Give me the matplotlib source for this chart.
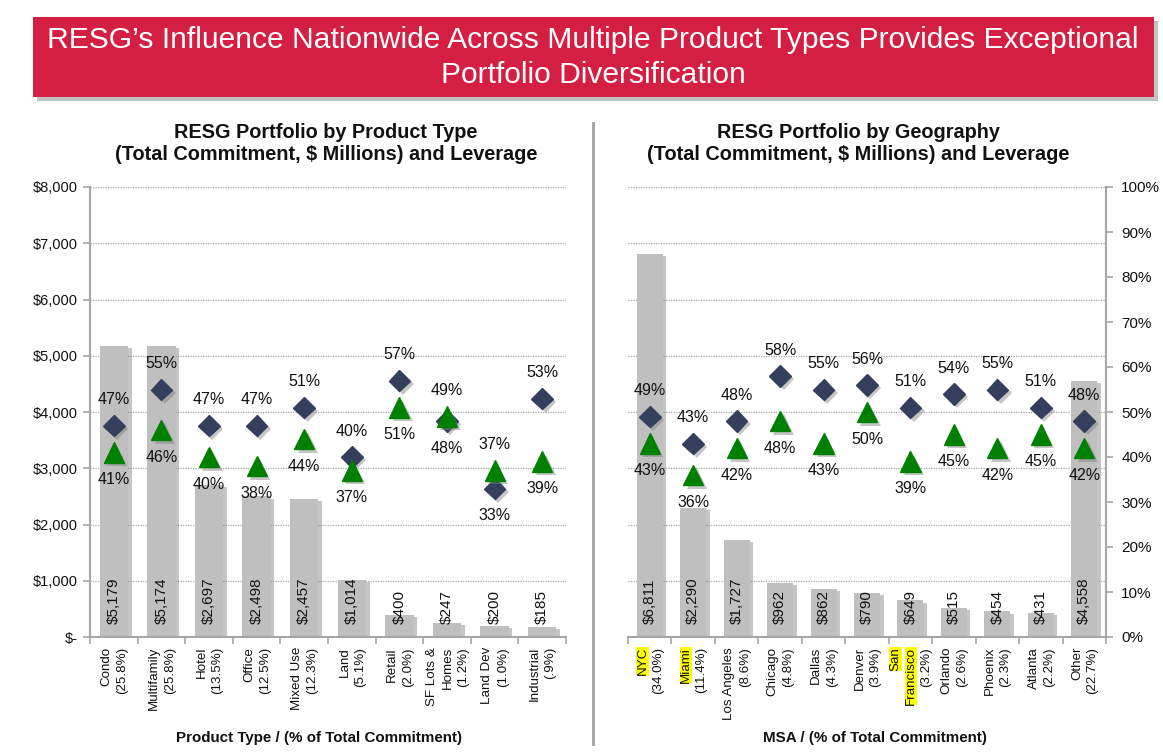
import matplotlib
matplotlib.use("Agg")
import matplotlib.pyplot as plt
import matplotlib.patheffects as pe
from matplotlib.patches import Rectangle
from matplotlib.lines import Line2D
from matplotlib.transforms import blended_transform_factory, offset_copy
from matplotlib.ticker import FuncFormatter, MultipleLocator

plt.rcParams['font.family'] = ['Liberation Sans', 'DejaVu Sans']

# ---------------- data ----------------
title_text = "RESG\u2019s Influence Nationwide Across Multiple Product Types Provides Exceptional\nPortfolio Diversification"

prod_title = "RESG Portfolio by Product Type\n(Total Commitment, $ Millions) and Leverage"
prod_xlabel = "Product Type / (% of Total Commitment)"
prod_names = ["Condo", "Multifamily", "Hotel", "Office", "Mixed Use", "Land",
              "Retail", "SF Lots &\nHomes", "Land Dev", "Industrial"]
prod_share = ["(25.8%)", "(25.8%)", "(13.5%)", "(12.5%)", "(12.3%)", "(5.1%)",
              "(2.0%)", "(1.2%)", "(1.0%)", "(.9%)"]
prod_commit = [5179, 5174, 2697, 2498, 2457, 1014, 400, 247, 200, 185]
prod_diamond = [47, 55, 47, 47, 51, 40, 57, 48, 33, 53]
prod_triangle = [41, 46, 40, 38, 44, 37, 51, 49, 37, 39]

geo_title = "RESG Portfolio by Geography\n(Total Commitment, $ Millions) and Leverage"
geo_xlabel = "MSA / (% of Total Commitment)"
geo_names = ["NYC", "Miami", "Los Angeles", "Chicago", "Dallas", "Denver",
             "San\nFrancisco", "Orlando", "Phoenix", "Atlanta", "Other"]
geo_share = ["(34.0%)", "(11.4%)", "(8.6%)", "(4.8%)", "(4.3%)", "(3.9%)",
             "(3.2%)", "(2.6%)", "(2.3%)", "(2.2%)", "(22.7%)"]
geo_highlight = ["NYC", "Miami", "San\nFrancisco"]
geo_commit = [6811, 2290, 1727, 962, 862, 790, 649, 515, 454, 431, 4558]
geo_diamond = [49, 43, 48, 58, 55, 56, 51, 54, 55, 51, 48]
geo_triangle = [43, 36, 42, 48, 43, 50, 39, 45, 42, 45, 42]

# ---------------- style ----------------
W, H = 1163, 756
RED = "#D51F42"
BAR = "#BFBFBF"
NAVY = "#333F5C"
GREEN = "#008000"
AXC = "#A6A6A6"
TXT = "#111111"

fig = plt.figure(figsize=(W / 100, H / 100), dpi=100)

def fx(px):
    return px / W

def fy(py):
    return 1 - py / H

# banner
fig.patches.append(Rectangle((fx(37), fy(101)), fx(1154 - 33), (97 - 17) / H,
                             transform=fig.transFigure, facecolor="#9a9a9a",
                             edgecolor="none", alpha=0.6, zorder=0))
fig.patches.append(Rectangle((fx(33), fy(97)), fx(1154 - 33), (97 - 17) / H,
                             transform=fig.transFigure, facecolor=RED,
                             edgecolor="none", zorder=1))
l1, l2 = title_text.split("\n")
fig.text(fx(593), fy(40), l1, ha="center", va="center", color="white", fontsize=21.6, zorder=3)
fig.text(fx(593), fy(75), l2, ha="center", va="center", color="white", fontsize=21.6, zorder=3)

# separator
fig.add_artist(Line2D([fx(593), fx(593)], [fy(123), fy(744)], transform=fig.transFigure,
                      color="#A0A0A0", lw=2))

shadow_bar = [pe.SimplePatchShadow(offset=(2.5, -1.5), shadow_rgbFace="#7f7f7f", alpha=0.45),
              pe.Normal()]
shadow_mk = [pe.SimplePatchShadow(offset=(2.5, -2.5), shadow_rgbFace="#7f7f7f", alpha=0.45),
             pe.Normal()]


def draw_panel(rect, names, shares, commit, diamond, triangle, title, title_x, xlabel, xlabel_x,
               side, highlight=()):
    ax = fig.add_axes(rect)
    n = len(names)
    x = list(range(n))
    ax.set_xlim(-0.5, n - 0.5)
    ax.set_ylim(0, 8000)
    ax.bar(x, commit, width=0.6, color=BAR, zorder=2, path_effects=shadow_bar)

    # leverage axis
    ax2 = ax.twinx()
    ax2.set_ylim(0, 100)

    # grid
    ax.yaxis.set_major_locator(MultipleLocator(1000))
    ax.grid(axis="y", color="#A8A8A8", linestyle=(0, (1, 1)), lw=0.9, zorder=0)
    ax.set_axisbelow(True)
    for s in ["top", "right", "left"]:
        ax.spines[s].set_visible(False)
    ax.spines["bottom"].set_color(AXC)
    ax.spines["bottom"].set_linewidth(1.5)
    ax.set_xticks([i - 0.5 for i in range(n + 1)])
    ax.set_xticklabels([])
    ax.tick_params(axis="x", length=5, width=1.2, color=AXC, direction="out")
    if side == "left":
        ax.spines["left"].set_visible(True)
        ax.spines["left"].set_color(AXC)
        ax.spines["left"].set_linewidth(1.5)
        ax.yaxis.set_major_formatter(FuncFormatter(lambda v, p: "$-" if v == 0 else "${:,.0f}".format(v)))
        ax.tick_params(axis="y", left=True, labelleft=True, right=False, labelright=False,
                       length=5, width=1.2, color=AXC, labelsize=10.5, labelcolor=TXT, pad=4)
    else:
        ax.tick_params(axis="y", left=False, labelleft=False, right=False, labelright=False)

    # bar value labels
    for xi, v in zip(x, commit):
        ax.text(xi, 230, "${:,.0f}".format(v), rotation=90, ha="center", va="bottom",
                fontsize=11, color=TXT, zorder=5)

    for s in ["top", "left", "bottom"]:
        ax2.spines[s].set_visible(False)
    if side == "right":
        ax2.spines["right"].set_color(AXC)
        ax2.spines["right"].set_linewidth(1.5)
        ax2.yaxis.set_major_locator(MultipleLocator(10))
        ax2.yaxis.set_major_formatter(FuncFormatter(lambda v, p: "{:.0f}%".format(v)))
        ax2.tick_params(axis="y", left=False, labelleft=False, right=True, labelright=True,
                        length=5, width=1.2, color=AXC, labelsize=11, labelcolor=TXT, pad=6)
    else:
        ax2.spines["right"].set_visible(False)
        ax2.tick_params(axis="y", left=False, labelleft=False, right=False, labelright=False)

    ax2.plot(x, diamond, linestyle="none", marker="D", markersize=11, color=NAVY,
             markeredgecolor=NAVY, path_effects=shadow_mk, zorder=4)
    ax2.plot(x, triangle, linestyle="none", marker="^", markersize=14.5, color=GREEN,
             markeredgecolor=GREEN, path_effects=shadow_mk, zorder=5)
    for xi, d, t in zip(x, diamond, triangle):
        d_up = d >= t
        ax2.annotate(f"{d}%", (xi, d), xytext=(0, 18.5 if d_up else -19.5), textcoords="offset points",
                     ha="center", va="center", fontsize=11.5, color=TXT)
        ax2.annotate(f"{t}%", (xi, t), xytext=(0, -19.5 if d_up else 18.5), textcoords="offset points",
                     ha="center", va="center", fontsize=11.5, color=TXT)

    # category labels (rotated, one column per line)
    trans = blended_transform_factory(ax.transData, fig.transFigure)
    ytop = fy(647)
    for xi, nm, sh in zip(x, names, shares):
        lines = nm.split("\n")
        hl = nm in highlight
        all_lines = [(ln, hl) for ln in lines] + [(sh, False)]
        k = len(all_lines)
        for j, (ln, h) in enumerate(all_lines):
            dx = (j - (k - 1) / 2) * 15.5 + 0.5
            tr = offset_copy(trans, fig=fig, x=dx, y=0, units="dots")
            kw = {}
            if h:
                kw["bbox"] = dict(facecolor="#FFFF00", edgecolor="none", pad=0.3)
            ax.text(xi, ytop, ln, rotation=90, ha="center", va="top", fontsize=9.6,
                    color=TXT, transform=tr, clip_on=False, **kw)

    t1, t2 = title.split("\n")
    fig.text(fx(title_x), fy(132), t1, ha="center", va="center", fontsize=14.3,
             fontweight="bold", color=TXT)
    fig.text(fx(title_x), fy(155), t2, ha="center", va="center", fontsize=14.3,
             fontweight="bold", color=TXT)
    fig.text(fx(xlabel_x), fy(738), xlabel, ha="center", va="center", fontsize=10.9,
             fontweight="bold", color=TXT)
    return ax


draw_panel([fx(90), fy(637), fx(566 - 90), (637 - 187) / H], prod_names, prod_share, prod_commit,
           prod_diamond, prod_triangle, prod_title, 326, prod_xlabel, 319, "left")
draw_panel([fx(628), fy(637), fx(1106 - 628), (637 - 187) / H], geo_names, geo_share, geo_commit,
           geo_diamond, geo_triangle, geo_title, 858, geo_xlabel, 875, "right", highlight=geo_highlight)

fig.savefig("out.png", dpi=100, facecolor="white")
